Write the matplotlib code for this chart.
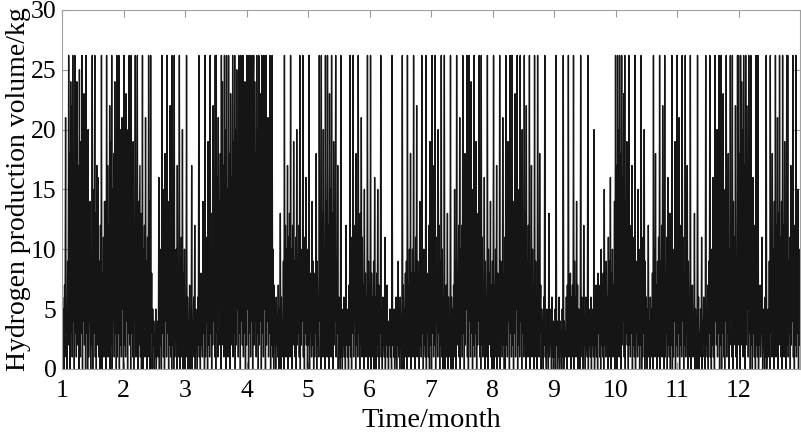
import numpy as np
import matplotlib
matplotlib.use("Agg")
import matplotlib.pyplot as plt

plt.rcParams["font.family"] = ["Liberation Serif", "DejaVu Serif"]

C = 26.2  # electrolyser output cap, kg

# hydrogen output, 10 chunks of 12 samples per month
m1 = [1,6,2,5,0,7,3,21,1,4,0,9, 2,C,5,18,0,24,3,22,1,C,4,16, 0,C,3,20,1,24,19,2,17,0,25,6,
      1,19,3,C,0,15,4,23,2,21,0,C, 3,12,0,20,1,10,4,14,0,9,2,C, 0,15,3,11,C,1,13,0,17,2,16,4,
      1,9,0,12,3,C,0,8,2,11,1,14, 4,14,0,C,2,17,1,12,3,22,0,19, 2,C,0,15,4,18,1,24,3,13,0,C,
      1,17,3,C,0,14,2,20,1,21,5,15]
m2 = [0,C,2,18,1,23,4,15,0,20,3,C, 2,13,0,C,3,16,1,19,0,12,4,C, 1,11,3,C,0,14,2,9,17,1,13,0,
      3,C,0,10,2,12,1,21,4,9,0,11, 2,C,1,14,0,C,3,8,0,5,2,4, 0,3,1,5,0,2,3,4,1,16,0,6,
      2,10,0,C,3,13,1,15,0,18,4,12, 1,C,3,14,0,11,2,22,1,16,0,C, 2,9,0,C,1,8,3,10,0,17,2,7,
      1,C,0,9,3,11,1,20,0,8,2,10]
m3 = [0,5,2,C,1,6,0,4,3,7,0,5, 1,17,0,4,2,6,1,12,0,5,3,4, 0,6,2,C,1,4,0,8,2,5,1,14,
      3,9,0,C,1,11,4,8,0,19,2,12, 1,C,3,13,0,10,2,22,4,15,1,C, 0,C,3,16,1,21,5,14,2,18,0,C,
      2,24,4,17,1,C,3,20,0,C,5,15, 1,C,3,18,0,23,2,16,4,C,1,19, 3,C,0,20,2,25,5,17,1,C,3,22,
      0,C,4,19,2,C,1,21,3,24,0,18]
m4 = [2,C,5,21,0,C,3,C,1,19,4,C, 0,22,C,2,24,4,18,1,C,3,20,0, C,2,17,4,23,0,C,3,20,1,C,5,
      16,0,C,2,14,4,21,1,13,3,C,0, 12,2,C,1,10,0,7,3,5,0,6,2, 4,1,7,0,5,2,13,0,6,1,4,3,
      9,0,C,2,12,1,10,3,17,0,11,4, 13,1,C,3,10,0,12,2,19,4,9,1, 11,0,20,2,9,3,12,1,C,0,10,2,
      8,4,C,1,11,0,9,3,16,2,10,0]
m5 = [7,2,C,0,8,3,6,1,14,2,9,0, 8,1,7,3,18,0,9,2,6,1,C,4, 11,0,C,2,13,1,20,4,10,0,C,3,
      14,1,C,2,12,0,23,5,15,1,C,3, 13,0,19,2,11,4,C,1,9,3,17,0, 6,2,4,0,C,1,5,0,3,2,6,1,
      4,0,12,2,5,1,3,0,7,2,C,1, 8,0,11,3,C,1,9,4,12,0,18,2, 10,1,C,3,9,0,13,2,21,1,11,4,
      7,0,15,2,8,1,6,3,C,0,9,2]
m6 = [7,1,C,0,8,3,6,1,9,0,16,2, 6,0,8,2,15,1,7,0,5,3,C,1, 5,0,6,2,4,1,11,0,5,2,7,1,
      3,0,4,2,5,1,3,0,C,2,4,1, 5,0,3,1,6,0,4,2,9,1,5,0, 6,2,4,0,C,1,7,0,5,3,8,1,
      9,0,C,2,7,1,10,3,18,0,8,2, 10,1,C,3,8,0,11,2,22,1,9,4, 7,0,14,2,9,1,C,3,8,0,10,2,
      6,1,C,0,8,3,7,1,12,0,19,2]
m7 = [9,0,C,3,10,1,17,2,C,0,11,4, 8,1,20,3,12,0,9,2,C,1,10,0, 6,2,C,0,5,3,7,1,13,0,6,2,
      4,1,C,0,6,2,5,0,7,3,15,1, 9,0,C,2,8,4,12,1,21,0,10,3, 12,1,C,3,14,0,18,2,11,5,C,1,
      13,0,C,4,10,1,24,3,12,0,15,2, C,1,9,3,19,0,11,2,13,4,C,1, 8,0,C,2,11,1,7,3,16,0,9,2,
      6,1,C,0,10,2,8,4,14,1,7,0]
m8 = [9,2,C,0,7,1,10,3,17,0,8,2, 6,1,C,0,9,3,7,1,21,2,8,0, 11,0,C,2,12,1,19,4,10,0,C,3,
      13,1,C,2,11,0,14,3,23,1,12,5, C,0,12,2,15,1,C,4,11,0,20,3, 10,1,C,2,13,0,22,3,9,1,12,4,
      C,0,8,2,17,1,10,3,7,0,C,2, 9,1,6,0,C,2,8,1,18,3,7,0, 5,1,4,0,6,2,C,1,3,0,5,2,
      4,0,13,1,5,2,3,0,6,1,4,0]
m9 = [3,1,5,0,C,2,4,0,3,1,6,0, 4,2,3,0,5,1,C,0,4,2,3,1, 6,0,7,2,C,1,5,3,8,0,6,2,
      7,1,C,0,9,2,6,1,14,3,7,0, 5,1,4,0,C,2,6,1,5,0,12,2, 4,0,6,2,3,1,C,0,5,2,4,1,
      6,0,4,2,5,1,20,0,3,2,7,1, 5,0,8,3,6,1,7,0,10,2,5,1, 8,0,15,2,7,1,9,3,6,0,11,2,
      9,1,16,0,8,2,10,1,7,3,14,0]
m10 = [C,2,17,0,C,4,20,1,C,3,18,0, C,2,16,4,23,1,C,0,14,3,19,2, 10,0,C,2,12,1,9,3,17,0,11,2,
       8,1,C,0,9,3,7,1,15,2,10,0, 7,2,C,0,8,1,11,3,20,0,9,1, 6,0,5,2,12,1,4,0,6,3,5,1,
       8,0,C,2,10,1,18,3,7,0,9,2, 11,1,C,0,9,3,12,1,22,2,10,0, C,1,8,3,11,0,16,2,7,1,13,0,
       9,2,C,0,10,1,8,4,19,0,12,2]
m11 = [C,1,10,3,21,0,12,2,9,1,C,4, 11,0,8,2,C,1,10,3,17,0,9,2, 6,1,C,0,5,2,7,1,4,3,13,0,
       5,2,4,0,C,1,6,0,3,2,5,1, 11,0,4,2,6,1,3,0,C,2,5,1, 7,0,9,3,C,1,6,0,10,2,16,1,
       11,0,C,4,13,2,20,1,10,3,C,0, 12,2,C,0,14,3,23,1,11,0,15,4, C,1,13,3,18,0,10,2,C,4,12,1,
       C,0,14,2,11,3,22,1,9,0,C,2]
m12 = [C,3,18,0,C,2,24,4,20,1,C,3, 17,0,C,2,22,5,15,1,C,3,19,0, C,2,11,0,16,3,8,1,12,0,C,2,
       6,1,C,0,5,2,7,1,4,3,11,0, 5,2,4,0,6,1,C,0,3,2,5,1, 9,0,C,3,11,1,18,2,10,0,14,3,
       C,1,12,3,21,0,13,2,C,4,11,1, 14,0,C,2,12,1,19,3,10,0,C,2, C,1,9,3,11,0,17,2,8,4,C,1,
       8,0,12,2,C,1,9,3,15,0,10,2]

months = [m1, m2, m3, m4, m5, m6, m7, m8, m9, m10, m11, m12]
month_ticks = list(range(1, 13))

# time axis: samples of month k spread evenly over [k, k+1)
t = []
h2 = []
for i, vals in enumerate(months):
    n = len(vals)
    t.extend(list(i + 1 + np.arange(n) / n))
    h2.extend(vals)

fig = plt.figure(figsize=(8.01, 4.33), dpi=100)
ax = fig.add_axes([0.0774, 0.148, 0.9214, 0.829])
ax.plot(t, h2, color="#151515", linewidth=1.0)

ax.set_xlim(1, 13)
ax.set_ylim(0, 30)
ax.set_xticks(month_ticks)
ax.set_yticks(range(0, 31, 5))
ax.tick_params(direction="in", top=True, right=True, labelsize=18.5, length=5,
               color="#999999")
ax.tick_params(axis="x", pad=8)
ax.tick_params(axis="y", pad=4)
for s in ax.spines.values():
    s.set_color("#a0a0a0")
    s.set_linewidth(0.8)

ax.set_xlabel("Time/month", fontsize=20.5, labelpad=4)
ax.set_ylabel("Hydrogen production volume/kg", fontsize=20)
ax.yaxis.set_label_coords(-0.042, 0.5)

fig.savefig("out.png", dpi=100)
